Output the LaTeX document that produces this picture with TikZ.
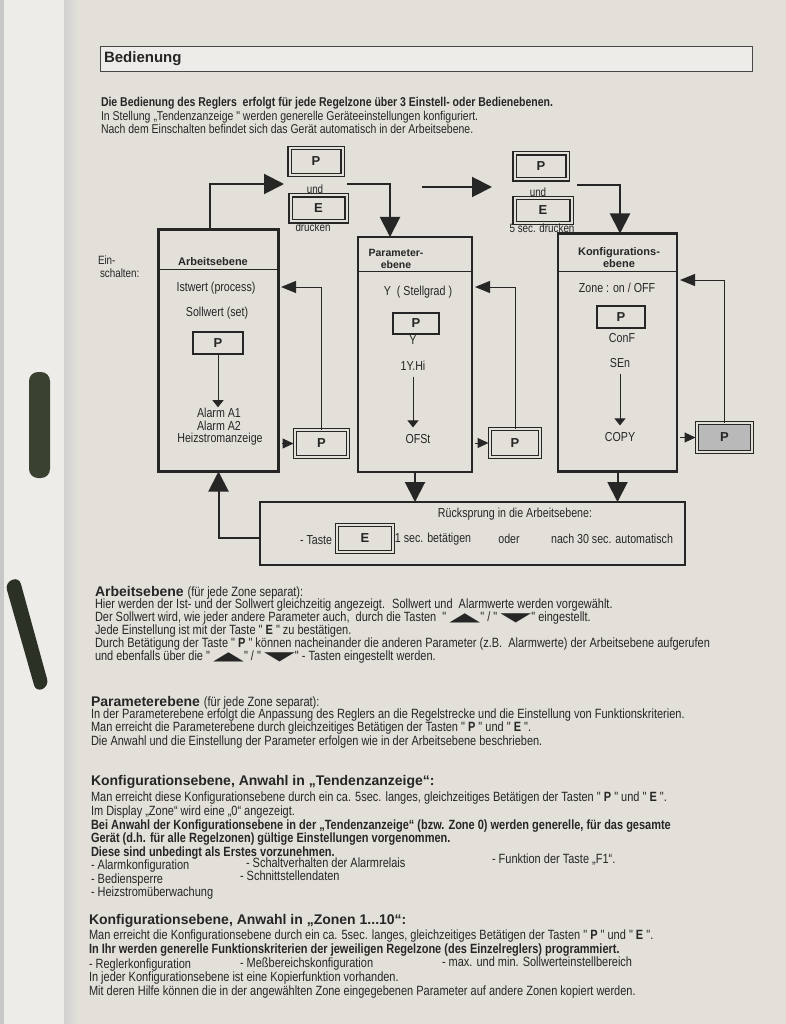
\documentclass[tikz,border=0pt]{standalone}
\usepackage{graphicx}
\usepackage{fontspec}
\setmainfont{Liberation Sans}
\newfontfamily\nrw{Liberation Sans}[FakeStretch=0.82]
\newfontfamily\djv{DejaVu Sans}
\usetikzlibrary{arrows.meta}
\definecolor{paper}{HTML}{E3E0DA}
\definecolor{paperL}{HTML}{EDECE9}
\definecolor{ink}{HTML}{262626}
\definecolor{clipA}{HTML}{3B4130}
\definecolor{clipB}{HTML}{2C3126}
\newcommand\upk{\raisebox{0.3pt}{\scalebox{3.0}[0.9]{\djv ▲}}}
\newcommand\dnk{\raisebox{0.3pt}{\scalebox{3.0}[0.9]{\djv ▼}}}
\begin{document}
\begin{tikzpicture}[x=1pt,y=-1pt,
  every node/.style={text=ink, inner sep=0pt, outer sep=0pt},
  lvl/.style={draw=ink, line width=2.2pt},
  key/.style={draw=ink, line width=1.3pt, font=\bfseries\fontsize{13}{13}\selectfont},
  dkey/.style={draw=ink, line width=1.1pt, double=paper, double distance=2pt, font=\bfseries\fontsize{13}{13}\selectfont},
  big/.style={draw=ink, line width=2pt, -{Triangle[width=20pt,length=20pt]}},
  thin/.style={draw=ink, line width=1pt, -{Triangle[width=11pt,length=7pt]}},
  side/.style={draw=ink, line width=1pt, shorten >=1.5pt, -{Triangle[width=10pt,length=11pt]}},
  ret/.style={draw=ink, line width=1pt, -{Triangle[width=12pt,length=15pt]}},
  dt/.style={font=\nrw\fontsize{13}{15}\selectfont},
  st/.style={font=\nrw\fontsize{12}{14}\selectfont},
  hb/.style={font=\bfseries\fontsize{11}{11.5}\selectfont},
  bt/.style={anchor=base west, font=\nrw\fontsize{13.4}{14}\selectfont},
  bb/.style={anchor=base west, font=\nrw\bfseries\fontsize{13.4}{14}\selectfont},
  hd/.style={anchor=base west, font=\bfseries\fontsize{14}{16}\selectfont},
  it/.style={anchor=base west, font=\nrw\fontsize{12.8}{14}\selectfont},
]
\useasboundingbox (0,0) rectangle (786,1024);
% paper
\fill[paper] (0,0) rectangle (786,1024);
\fill[paperL] (0,0) rectangle (64,1024);
\fill[black!22] (0,0) rectangle (4,1024);
\shade[left color=black!18, right color=paper] (64,0) rectangle (78,1024);
% binder clips
\fill[clipA, rounded corners=9pt] (29,372) rectangle (50,478);
\fill[clipB, rounded corners=7pt] (5,583) -- (19,577) -- (49,686) -- (36,692) -- cycle;

% title
\node[draw=ink!85, line width=1pt, fill=paper!60!white, minimum width=652pt, minimum height=25pt] (tbox) at (426,59.5) {};
\node[anchor=west, font=\bfseries\fontsize{15}{17}\selectfont] (title) at (104,59) {Bedienung};

% intro
\node[it, font=\nrw\bfseries\fontsize{12.8}{14}\selectfont] (i1) at (101,107) {Die Bedienung des Reglers \ erfolgt für jede Regelzone über 3 Einstell- oder Bedienebenen.};
\node[it] (i2) at (101,121) {In Stellung „Tendenzanzeige " werden generelle Geräteeinstellungen konfiguriert.};
\node[it] (i3) at (101,134) {Nach dem Einschalten befindet sich das Gerät automatisch in der Arbeitsebene.};

% level boxes
\node[lvl, minimum width=120pt, minimum height=242pt] (A) at (218.5,350.5) {};
\node[lvl, minimum width=114pt, minimum height=235pt] (B) at (415,354.5) {};
\node[lvl, minimum width=119pt, minimum height=238pt] (C) at (617.5,352.5) {};
\coordinate (hyA) at (0,269.5);
\coordinate (hyB) at (0,271.5);
\draw[ink, line width=1.6pt] (A.west |- hyA) -- (A.east |- hyA);
\draw[ink, line width=1.6pt] (B.west |- hyB) -- (B.east |- hyB);
\draw[ink, line width=1.6pt] (C.west |- hyB) -- (C.east |- hyB);

\node[st, anchor=west] (ein) at (98,260) {Ein-};
\node[st, anchor=west] (sch) at (100,273) {schalten:};

% headers
\node[hb] (hA) at (213,262) {Arbeitsebene};
\node[hb, font=\bfseries\fontsize{10.5}{12}\selectfont, align=center] (hB) at (396,259) {Parameter-\\ebene};
\node[hb, align=center] (hC) at (619,257.5) {Konfigurations-\\ebene};

% Arbeitsebene content
\node[dt] (ist) at (216,288) {Istwert (process)};
\node[dt] (soll) at (217,313) {Sollwert (set)};
\node[key, minimum width=50pt, minimum height=22pt] (kA) at (218,343) {P};
\node[dt] (al1) at (219,413) {Alarm A1};
\node[dt] (al2) at (219,426) {Alarm A2};
\node[dt] (al3) at (220,439) {Heizstromanzeige};
\draw[thin] (kA.south) -- ([yshift=1pt]kA.south |- al1.north);

% Parameterebene content
\node[dt] (yst) at (418,292) {Y \ ( Stellgrad )};
\node[key, minimum width=46pt, minimum height=21pt] (kB) at (416,323.5) {P};
\node[dt] (yB) at (413,340) {Y};
\node[dt] (yhi) at (413,366) {1Y.Hi};
\node[dt] (ofs) at (418,439) {OFSt};
\draw[thin] ([yshift=-6pt]yhi.south) -- ([yshift=7pt]yhi.south |- ofs.north);

% Konfigurationsebene content
\node[dt] (zone) at (617,288) {Zone : on / OFF};
\node[key, minimum width=48pt, minimum height=22pt] (kC) at (621,317) {P};
\node[dt] (conf) at (622,338) {ConF};
\node[dt] (sen) at (620,363) {SEn};
\node[dt] (copy) at (620,437) {COPY};
\draw[thin] ([yshift=-6pt]sen.south) -- ([yshift=7pt]sen.south |- copy.north);

% side keys
\node[dkey, minimum width=53pt, minimum height=27pt] (pA) at (321.5,443.5) {P};
\node[dkey, minimum width=50pt, minimum height=28pt] (pB) at (515,443) {P};
\node[dkey, minimum width=55pt, minimum height=29pt, fill=gray!55] (pC) at (724.5,437.5) {P};
\draw[side] ([xshift=3pt]A.east |- pA.west) -- (pA.west);
\draw[side] ([xshift=3pt]B.east |- pB.west) -- (pB.west);
\draw[side] ([xshift=3pt]C.east |- pC.west) -- (pC.west);
\coordinate (rA) at (281,287);
\coordinate (rB) at (475,287);
\coordinate (rC) at (680,280);
\draw[ret] (pA.north) |- (rA);
\draw[ret] (pB.north) |- (rB);
\draw[ret] (pC.north) |- (rC);

% top keys
\node[dkey, minimum width=53pt, minimum height=27pt] (tP1) at (316,161.5) {P};
\node[st] (und1) at (315,189) {und};
\node[dkey, minimum width=56pt, minimum height=26pt] (tE1) at (318.5,208.5) {E};
\node[st] (dr1) at (313,227) {drucken};
\node[dkey, minimum width=53pt, minimum height=26pt] (tP2) at (541,166.5) {P};
\node[st] (und2) at (538,192) {und};
\node[dkey, minimum width=57pt, minimum height=25pt] (tE2) at (543,210.5) {E};
\node[st] (dr2) at (542,228) {5 sec. drucken};

% big arrows
\coordinate (t1) at (284,184);
\draw[big] ([xshift=-8.5pt]A.north) |- (t1);
\coordinate (s2) at (347,184);
\draw[big] (s2) -| ([xshift=-25pt]B.north);
\coordinate (s3a) at (422,187);
\coordinate (s3b) at (492,187);
\draw[big] (s3a) -- (s3b);
\coordinate (s4) at (577,185);
\draw[big] (s4) -| ([xshift=2.5pt]C.north);

% return box
\node[draw=ink, line width=2pt, minimum width=425pt, minimum height=63pt] (R) at (472.5,533.5) {};
\draw[big] (B.south) -- (B.south |- R.north);
\draw[big] (C.south) -- (C.south |- R.north);
\coordinate (ry) at (0,538);
\draw[big] (R.west |- ry) -| (A.south);
\node[dt] (rs) at (515,514) {Rücksprung in die Arbeitsebene:};
\node[dt] (taste) at (316,540) {- Taste};
\node[dkey, minimum width=56pt, minimum height=27pt] (kE) at (365,538.5) {E};
\node[dt] (sec1) at (433,539) {1 sec. betätigen};
\node[dt] (oder) at (509,539) {oder};
\node[dt] (n30) at (612,539) {nach 30 sec. automatisch};

% text block Arbeitsebene
\node[hd] (hA1) at (95,596) {Arbeitsebene {\nrw\mdseries\fontsize{13.5}{14}\selectfont (für jede Zone separat):}};
\node[bt] (a1) at (95,608.5) {Hier werden der Ist- und der Sollwert gleichzeitig angezeigt. \ Sollwert und \ Alarmwerte werden vorgewählt.};
\node[bt] (a2) at (95,621.5) {Der Sollwert wird, wie jeder andere Parameter auch, \ durch die Tasten \ " \upk" / " \dnk" eingestellt.};
\node[bt] (a3) at (95,634.5) {Jede Einstellung ist mit der Taste " {\bfseries E} " zu bestätigen.};
\node[bt] (a4) at (95,647.5) {Durch Betätigung der Taste " {\bfseries P} " können nacheinander die anderen Parameter (z.B. \ Alarmwerte) der Arbeitsebene aufgerufen};
\node[bt] (a5) at (95,660.5) {und ebenfalls über die " \upk" / " \dnk" - Tasten eingestellt werden.};

% text block Parameterebene
\node[hd] (hP1) at (91,706) {Parameterebene {\nrw\mdseries\fontsize{13.5}{14}\selectfont (für jede Zone separat):}};
\node[bt] (p1) at (91,718.5) {In der Parameterebene erfolgt die Anpassung des Reglers an die Regelstrecke und die Einstellung von Funktionskriterien.};
\node[bt] (p2) at (91,731.5) {Man erreicht die Parameterebene durch gleichzeitiges Betätigen der Tasten " {\bfseries P} " und " {\bfseries E} ".};
\node[bt] (p3) at (91,745.5) {Die Anwahl und die Einstellung der Parameter erfolgen wie in der Arbeitsebene beschrieben.};

% text block Konfiguration 1
\node[hd] (hK1) at (91,785) {Konfigurationsebene, Anwahl in „Tendenzanzeige“:};
\node[bt] (k1) at (91,801.5) {Man erreicht diese Konfigurationsebene durch ein ca. 5sec. langes, gleichzeitiges Betätigen der Tasten " {\bfseries P} " und " {\bfseries E} ".};
\node[bt] (k2) at (91,815) {Im Display „Zone“ wird eine „0“ angezeigt.};
\node[bb] (k3) at (91,829) {Bei Anwahl der Konfigurationsebene in der „Tendenzanzeige“ (bzw. Zone 0) werden generelle, für das gesamte};
\node[bb] (k4) at (91,842.5) {Gerät (d.h. für alle Regelzonen) gültige Einstellungen vorgenommen.};
\node[bb] (k5) at (91,856) {Diese sind unbedingt als Erstes vorzunehmen.};
\node[bt] (k6) at (91,869.5) {- Alarmkonfiguration};
\node[bt] (k7) at (91,883) {- Bediensperre};
\node[bt] (k8) at (91,896.5) {- Heizstromüberwachung};
\node[bt] (k9) at (246,867) {- Schaltverhalten der Alarmrelais};
\node[bt] (k10) at (240,880.5) {- Schnittstellendaten};
\node[bt] (k11) at (492,863) {- Funktion der Taste „F1“.};

% text block Konfiguration 2
\node[hd] (hK2) at (89,924) {Konfigurationsebene, Anwahl in „Zonen 1...10“:};
\node[bt] (z1) at (89,939.5) {Man erreicht die Konfigurationsebene durch ein ca. 5sec. langes, gleichzeitiges Betätigen der Tasten " {\bfseries P} " und " {\bfseries E} ".};
\node[bb] (z2) at (89,953) {In Ihr werden generelle Funktionskriterien der jeweiligen Regelzone (des Einzelreglers) programmiert.};
\node[bt] (z3) at (89,968) {- Reglerkonfiguration};
\node[bt] (z4) at (240,967) {- Meßbereichskonfiguration};
\node[bt] (z5) at (442,966) {- max. und min. Sollwerteinstellbereich};
\node[bt] (z6) at (89,981.5) {In jeder Konfigurationsebene ist eine Kopierfunktion vorhanden.};
\node[bt] (z7) at (89,995.5) {Mit deren Hilfe können die in der angewählten Zone eingegebenen Parameter auf andere Zonen kopiert werden.};
\end{tikzpicture}
\end{document}
